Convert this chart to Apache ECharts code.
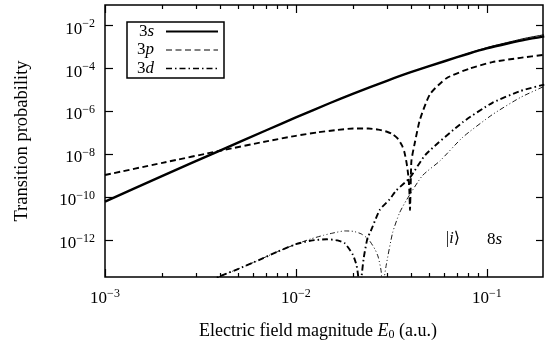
<!DOCTYPE html>
<html><head><meta charset="utf-8">
<script src="https://cdn.jsdelivr.net/npm/echarts@6/dist/echarts.min.js"></script>
<style>html,body{margin:0;padding:0;background:#fff}#c{width:548px;height:349px}</style>
</head><body><div id="c"></div>
<script>
// ---- data (field magnitude E0 in a.u., transition probability) ----
const xMajorTicks = [0.001, 0.01, 0.1];
const xMinorTicks = [0.002,0.003,0.004,0.005,0.006,0.007,0.008,0.009,0.02,0.03,0.04,0.05,0.06,0.07,0.08,0.09];
const yMajorTicks = [1e-12, 1e-10, 1e-8, 1e-6, 1e-4, 1e-2];
const xRange = [0.001, 0.197];
const yRange = [1.86e-14, 9.25e-2];

const s3X = [0.001,0.002,0.004,0.007,0.01,0.015,0.02,0.03,0.04,0.06,0.08,0.1,0.13,0.16,0.2];
const s3Thick = [6.17e-11,9.77e-10,1.48e-8,1.32e-7,5.25e-7,2.40e-6,6.76e-6,2.69e-5,6.76e-5,2.19e-4,4.90e-4,8.71e-4,1.51e-3,2.24e-3,3.16e-3];
const s3Thin  = [6.17e-11,9.77e-10,1.48e-8,1.32e-7,5.25e-7,2.40e-6,6.76e-6,2.69e-5,6.76e-5,2.19e-4,5.13e-4,9.55e-4,1.70e-3,2.63e-3,3.80e-3];

const p3X = [0.001,0.002,0.004,0.007,0.01,0.013,0.016,0.02,0.024,0.027,0.03,0.032,0.034,0.036,0.037,0.038,0.0388,0.0393,0.0396,0.0399,0.0403,0.0419,0.0446,0.0504,0.0615,0.0814,0.107,0.15,0.2];
const p3Y = [1.07e-9,3.98e-9,1.45e-8,3.98e-8,7.24e-8,1.05e-7,1.32e-7,1.58e-7,1.58e-7,1.41e-7,1.12e-7,8.71e-8,5.62e-8,2.51e-8,1.26e-8,3.98e-9,1.0e-9,2.0e-10,2.5e-11,2.5e-10,5.0e-9,3.16e-8,3.98e-7,6.31e-6,3.55e-5,1.0e-4,2.0e-4,3.16e-4,4.37e-4];

const d3ThickX = [0.0035,0.004,0.005,0.006,0.008,0.01,0.012,0.0145,0.0165,0.018,0.0199,0.0208,0.0212,0.0216,0.0221,0.0227,0.0238,0.0244,0.0275,0.031,0.0335,0.0395,0.048,0.075,0.107,0.15,0.2];
const d3ThickY = [1.12e-14,2.0e-14,4.47e-14,8.91e-14,2.82e-13,6.31e-13,9.33e-13,1.07e-12,9.55e-13,7.08e-13,2.0e-13,6.31e-14,2.0e-14,1e-15,2.0e-14,1.58e-13,1.41e-12,2.04e-12,2.51e-11,7.94e-11,2.0e-10,7.94e-10,1.0e-8,3.16e-7,2.51e-6,8.91e-6,1.78e-5];

const d3ThinX = [0.0035,0.004,0.005,0.006,0.008,0.01,0.012,0.014,0.016,0.018,0.02,0.022,0.024,0.026,0.027,0.028,0.0284,0.0288,0.0297,0.0321,0.0349,0.038,0.046,0.057,0.075,0.107,0.15,0.2];
const d3ThinY = [1.12e-14,2.0e-14,4.47e-14,8.91e-14,2.82e-13,6.31e-13,1.12e-12,1.66e-12,2.19e-12,2.63e-12,2.51e-12,1.91e-12,1.07e-12,3.55e-13,1.58e-13,3.16e-14,1e-15,1.0e-14,6.31e-14,2.14e-12,1.82e-11,7.41e-11,1.0e-9,5.01e-9,6.31e-8,7.08e-7,4.47e-6,1.48e-5];

const legendNames = ['3s', '3p', '3d'];

// ---- chart ----
const FONT = '"Liberation Serif", "DejaVu Serif", serif';
const lg = Math.log10;
const pts = (xs, ys) => xs.map((x, i) => [lg(x), lg(ys[i])]);
const powLabel = v => { const e = Math.round(v); return '{b|10}{s|' + (e < 0 ? '\u2212' : '') + Math.abs(e) + '}'; };
const powRich = { b: { fontSize: 17, lineHeight: 22, fontFamily: FONT, color: '#000' }, s: { fontSize: 12, lineHeight: 12, verticalAlign: 'top', fontFamily: FONT, color: '#000' } };
const X0 = lg(xRange[0]), X1 = lg(xRange[1]), Y0 = lg(yRange[0]), Y1 = lg(yRange[1]);

function xAx(pos, ticks, len, labels) {
  return {
    type: 'value', position: pos, min: X0, max: X1,
    axisLine: { show: false, onZero: false }, splitLine: { show: false },
    axisTick: { show: true, inside: true, length: len, customValues: ticks.map(lg), lineStyle: { color: '#000', width: 1.2 } },
    axisLabel: labels ? { show: true, customValues: ticks.map(lg), formatter: powLabel, rich: powRich, margin: 11 } : { show: false }
  };
}

const chart = echarts.init(document.getElementById('c'), null, { renderer: 'canvas' });
chart.setOption({
  animation: false,
  backgroundColor: '#fff',
  grid: { left: 105, right: 5, top: 5, bottom: 72, show: true, borderColor: '#000', borderWidth: 1.5, backgroundColor: 'transparent' },
  xAxis: [
    Object.assign(xAx('bottom', xMajorTicks, 8, true), {
      name: 'Electric field magnitude {i|E}{sub|0} (a.u.)', nameLocation: 'middle', nameGap: 44,
      nameTextStyle: { fontFamily: FONT, fontSize: 18, color: '#000', lineHeight: 20, padding: [0, 12, 0, 0],
        rich: { i: { fontStyle: 'italic', fontFamily: FONT, fontSize: 18, lineHeight: 20 }, sub: { fontSize: 12, lineHeight: 12, verticalAlign: 'bottom', fontFamily: FONT } } }
    }),
    xAx('bottom', xMinorTicks, 4, false),
    xAx('top', xMajorTicks, 8, false),
    xAx('top', xMinorTicks, 4, false)
  ],
  yAxis: [
    {
      type: 'value', position: 'left', min: Y0, max: Y1,
      axisLine: { show: false, onZero: false }, splitLine: { show: false },
      axisTick: { show: true, inside: true, length: 8, customValues: yMajorTicks.map(lg), lineStyle: { color: '#000', width: 1.2 } },
      axisLabel: { show: true, customValues: yMajorTicks.map(lg), formatter: powLabel, rich: powRich, margin: 10, padding: [7, 0, 0, 0] },
      name: 'Transition probability', nameLocation: 'middle', nameGap: 73,
      nameTextStyle: { fontFamily: FONT, fontSize: 18.5, color: '#000' }
    },
    {
      type: 'value', position: 'right', min: Y0, max: Y1,
      axisLine: { show: false, onZero: false }, splitLine: { show: false },
      axisTick: { show: true, inside: true, length: 7, customValues: yMajorTicks.map(lg), lineStyle: { color: '#000', width: 1.2 } },
      axisLabel: { show: false }
    }
  ],
  legend: {
    data: [
      { name: '3s' },
      { name: '3p', lineStyle: { width: 1 } },
      { name: '3d', lineStyle: { width: 1.5 } }
    ],
    orient: 'vertical', left: 127, top: 22, align: 'right',
    itemWidth: 52, itemHeight: 14, itemGap: 1.5,
    itemStyle: { opacity: 0 },
    borderColor: '#000', borderWidth: 1.5, borderRadius: 0, padding: [1, 5, 1, 10],
    selectedMode: false,
    formatter: n => n[0] + '{i|' + n.slice(1) + '}',
    textStyle: { fontFamily: FONT, fontSize: 17, lineHeight: 15, color: '#000', padding: [0, 7, 0, 0],
      rich: { i: { fontStyle: 'italic', fontFamily: FONT, fontSize: 17, lineHeight: 15, color: '#000' } } }
  },
  graphic: [
    { type: 'text', left: 446, top: 231, style: { text: '{n||}{i|i}{n|\u27E9}', fill: '#000', font: '16px ' + FONT,
      rich: { n: { fontFamily: FONT, fontSize: 16 }, i: { fontFamily: FONT, fontSize: 16, fontStyle: 'italic' } } } },
    { type: 'text', left: 487, top: 231, style: { text: '{n|8}{i|s}', fill: '#000', font: '17px ' + FONT,
      rich: { n: { fontFamily: FONT, fontSize: 17 }, i: { fontFamily: FONT, fontSize: 17, fontStyle: 'italic' } } } }
  ],
  series: [
    { name: '3s', type: 'line', data: pts(s3X, s3Thick), showSymbol: false, symbol: 'none', smooth: 0.2, clip: true,
      itemStyle: { color: '#000' }, lineStyle: { color: '#000', width: 2.4 }, z: 5 },
    { name: '3s thin', type: 'line', data: pts(s3X, s3Thin), showSymbol: false, symbol: 'none', smooth: 0.2, clip: true,
      itemStyle: { color: '#000' }, lineStyle: { color: '#000', width: 1 } },
    { name: '3p', type: 'line', data: pts(p3X, p3Y), showSymbol: false, symbol: 'none', smooth: 0.2, clip: true,
      itemStyle: { color: '#000' }, lineStyle: { color: '#000', width: 1.9, type: [6, 3.5] } },
    { name: '3d', type: 'line', data: pts(d3ThickX, d3ThickY), showSymbol: false, symbol: 'none', smooth: 0.2, clip: true,
      itemStyle: { color: '#000' }, lineStyle: { color: '#000', width: 1.9, type: [6, 3, 1.5, 3] } },
    { name: '3d thin', type: 'line', data: pts(d3ThinX, d3ThinY), showSymbol: false, symbol: 'none', smooth: 0.2, clip: true,
      itemStyle: { color: '#000' }, lineStyle: { color: '#000', width: 0.9, type: [5, 2.5, 1, 2.5, 1, 2.5] } }
  ]
});
</script></body></html>
